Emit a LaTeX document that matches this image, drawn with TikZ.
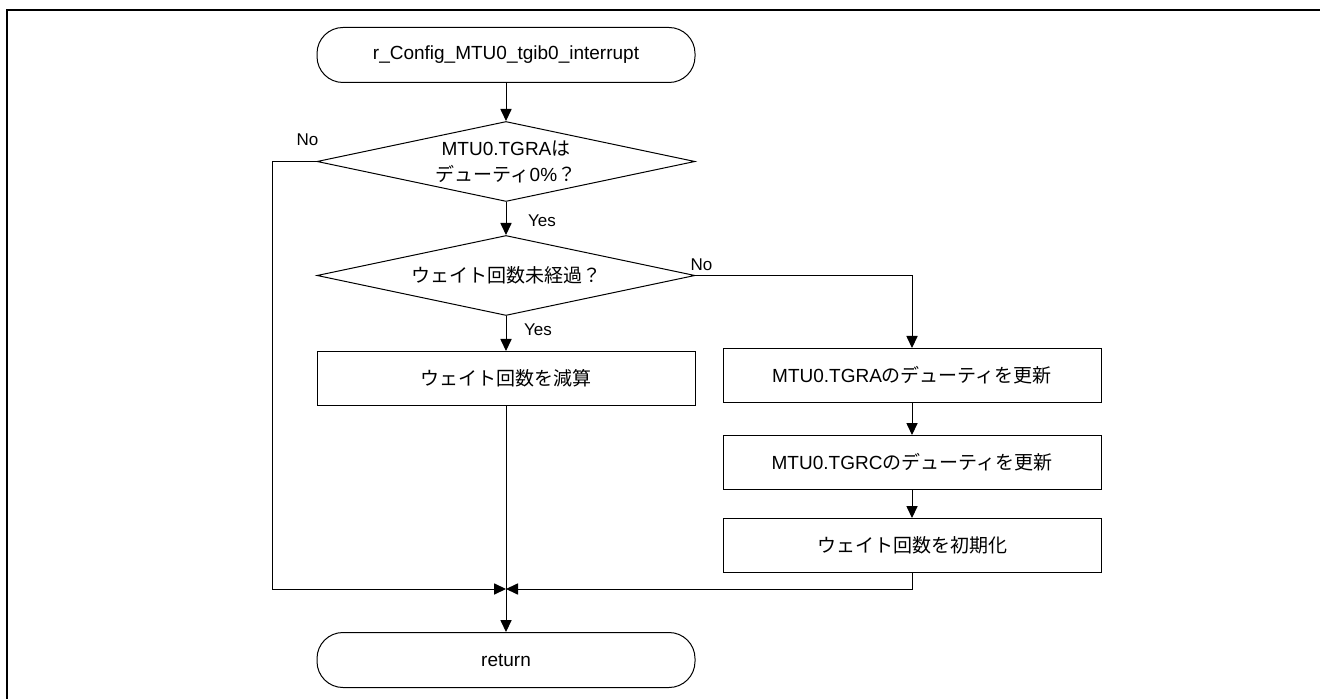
\documentclass[tikz,border=0pt]{standalone}
\usepackage{fontspec}
\setmainfont{Liberation Sans}
\newfontfamily\jp{Noto Sans CJK JP}
\usepackage{tikz}
\usetikzlibrary{arrows.meta,positioning,calc,shapes.geometric}
\newcommand{\jtxt}[1]{{\jp #1}}

\begin{document}
\begin{tikzpicture}[x=0.5pt,y=-0.5pt,font=\fontsize{9.5pt}{13pt}\selectfont,
  >={Triangle[length=6pt,width=5.6pt]},line width=0.5pt,
  term/.style={draw,rounded corners=13pt,minimum width=189pt,minimum height=27.5pt,inner sep=0pt},
  proc/.style={draw,minimum width=189pt,minimum height=27pt,inner sep=0pt},
  cond/.style={draw,diamond,aspect=4.725,minimum width=189pt,minimum height=40pt,inner sep=0pt,align=center},
  lbl/.style={font=\fontsize{8.5pt}{10pt}\selectfont,inner sep=0pt}]
\useasboundingbox (0,0) rectangle (1320,699);
\draw[line width=1.3pt] (7,699) |- (1320,10);
\node[term] (start) at (506,55) {r\_Config\_MTU0\_tgib0\_interrupt};
\node[cond,below=19pt of start] (dec1) {MTU0.TGRA\jtxt{は}\\\jtxt{デューティ}0\%\jtxt{？}};
\node[cond,below=16.5pt of dec1] (dec2) {\jtxt{ウェイト回数未経過？}};
\node[proc,below=17.5pt of dec2] (sub) {\jtxt{ウェイト回数を減算}};
\node[proc,right=13.5pt of sub,yshift=1.5pt] (updA) {MTU0.TGRA\jtxt{のデューティを更新}};
\node[proc,below=16pt of updA] (updC) {MTU0.TGRC\jtxt{のデューティを更新}};
\node[proc,below=14pt of updC] (init) {\jtxt{ウェイト回数を初期化}};
\coordinate (m) at (506,589);
\node[term,below=21.5pt of m] (ret) {return};
\node[lbl] (no1) at ($(dec1.west)+(-9,-22)$) {No};
\node[lbl] (yes1) at ($(dec1.south)+(36,19)$) {Yes};
\node[lbl] (no2) at ($(dec2.east)+(6,-11)$) {No};
\node[lbl] (yes2) at ($(dec2.south)+(32,14)$) {Yes};
\draw[->] (start)--(dec1); \draw[->] (dec1)--(dec2); \draw[->] (dec2)--(sub);
\draw[->] (dec1.west) -- ++(-44,0) |- (m);
\draw[->] (dec2.east) -| (updA);
\draw[->] (updA)--(updC); \draw[->] (updC)--(init);
\draw[->] (init) |- (m);
\draw[->] (sub)--(ret);
\end{tikzpicture}
\end{document}
